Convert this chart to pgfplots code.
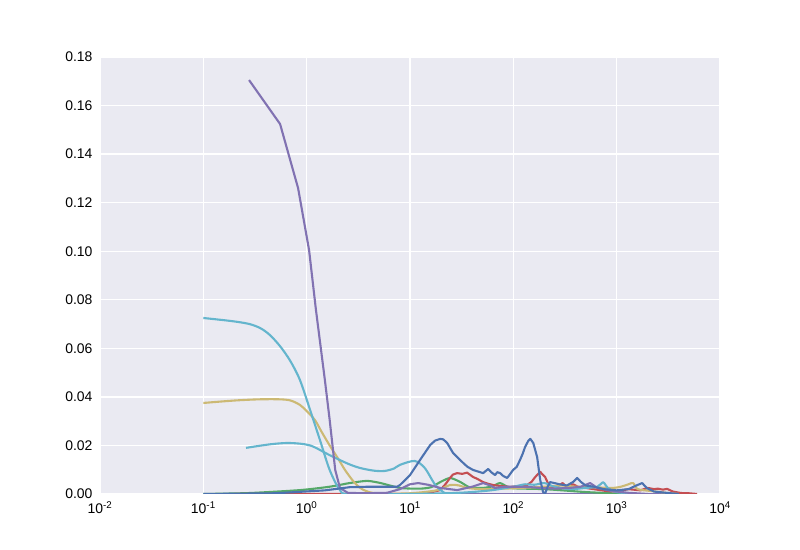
\documentclass[border=0pt]{standalone}
\usepackage{fontspec}
\setmainfont{Liberation Sans}
\usepackage{pgfplots}
\pgfplotsset{compat=1.18}
\definecolor{sbblue}{HTML}{4C72B0}
\definecolor{sbgreen}{HTML}{55A868}
\definecolor{sbred}{HTML}{C44E52}
\definecolor{sbpurple}{HTML}{8172B2}
\definecolor{sbyellow}{HTML}{CCB974}
\definecolor{sbcyan}{HTML}{64B5CD}
\definecolor{sbbg}{HTML}{EAEAF2}
\begin{document}
\begin{tikzpicture}[x=1bp,y=1bp]
\path[use as bounding box] (-100bp,-56bp) rectangle (700bp,494bp);
\begin{axis}[
  at={(0,0)}, anchor=south west,
  scale only axis, width=620bp, height=437bp,
  xmode=log, xmin=0.01, xmax=10000, ymin=0, ymax=0.18,
  axis background/.style={fill=sbbg},
  axis line style={draw=none},
  major tick length=0pt, minor tick length=0pt,
  grid=major, major grid style={white, line width=1.3bp},
  xtick={0.01,0.1,1,10,100,1000,10000},
  xticklabels={10\textsuperscript{-2},10\textsuperscript{-1},10\textsuperscript{0},10\textsuperscript{1},10\textsuperscript{2},10\textsuperscript{3},10\textsuperscript{4}},
  ytick={0,0.02,0.04,0.06,0.08,0.10,0.12,0.14,0.16,0.18},
  yticklabel style={/pgf/number format/fixed, /pgf/number format/fixed zerofill, /pgf/number format/precision=2, /pgf/number format/assume math mode=true, xshift=-4bp},
  tick label style={font=\fontsize{14}{16}\selectfont},
  xticklabel style={yshift=-4bp},
  every axis plot/.append style={line width=2.1bp, line join=round},
  clip=true,
]
% flat purple near zero
\addplot[sbpurple] coordinates {(0.22,0) (1,0) (10,0) (100,0) (1000,0) (3000,0)};
% green
\addplot[sbgreen, smooth, tension=0.4] coordinates {(0.1,0) (0.28,0.0004) (0.86,0.0016) (1.67,0.003) (2.6,0.0045) (3.84,0.0054) (5.2,0.0045) (8,0.0025) (12.5,0.0022) (16,0.0028) (19.6,0.0049) (24.4,0.0066) (30.5,0.0050) (38,0.0027) (51,0.0025) (63,0.0032) (74.5,0.0045) (93,0.0025) (130,0.0022) (200,0.0020) (300,0.0015) (500,0.0008) (1000,0.0002) (1500,0)};
% red
\addplot[sbred] coordinates {(0.2,0) (1,0) (10,0) (15,0.0004) (19.6,0.0016) (22,0.0040) (24.4,0.0066) (26,0.0080) (28.6,0.0086) (32,0.0083) (35.7,0.0088) (40.8,0.0070) (45,0.0062) (51,0.0049) (57,0.0042) (63.7,0.0037) (75,0.0033) (93,0.0029) (110,0.0032) (136,0.0037) (150,0.0050) (163,0.0070) (182,0.0091) (203,0.0070) (227,0.0025) (265,0.0030) (300,0.0045) (330,0.0028) (380,0.0040) (420,0.0030) (500,0.0025) (600,0.0020) (800,0.0012) (1000,0.0010) (1300,0.0020) (1700,0.0015) (2000,0.0025) (2300,0.0020) (2500,0.0022) (2800,0.0018) (3080,0.0021) (3500,0.0010) (4200,0.0004) (5000,0.0003) (6000,0)};
% yellow
\addplot[sbyellow, smooth, tension=0.5] coordinates {(0.1,0.0375) (0.2,0.0385) (0.35,0.0390) (0.55,0.0390) (0.7,0.0385) (0.86,0.0367) (1.0,0.0342) (1.2,0.0305) (1.4,0.0255) (1.67,0.0200) (2.0,0.0148) (2.35,0.0099) (2.8,0.0055) (3.3,0.0025) (4.0,0.0008) (5.2,0.0002) (10,0.0003) (18,0.0015) (24.4,0.0037) (30,0.0035) (35.7,0.0025) (50,0.0020) (80,0.0022) (120,0.0025) (200,0.0030) (300,0.0035) (400,0.0030) (600,0.0028) (900,0.0025) (1100,0.0030) (1300,0.0040) (1445,0.0045) (1600,0.0020) (2200,0.0012) (3000,0.0005) (4000,0)};
% cyan 1
\addplot[sbcyan, smooth, tension=0.5] coordinates {(0.1,0.0725) (0.19,0.0712) (0.28,0.0700) (0.36,0.0682) (0.44,0.0655) (0.55,0.0610) (0.69,0.0550) (0.86,0.0470) (1.08,0.0346) (1.35,0.0220) (1.67,0.0099) (2.1,0.0016) (2.6,0) (10,0) (30,0.0005) (60,0.0015) (100,0.0030) (130,0.0040) (160,0.0038) (200,0.0045) (250,0.0030) (350,0.0020) (500,0.0025) (650,0.0030) (740,0.0048) (820,0.0025) (1000,0.0008) (1500,0)};
% cyan 2
\addplot[sbcyan, smooth, tension=0.5] coordinates {(0.259,0.0190) (0.45,0.0205) (0.69,0.0210) (1.08,0.0200) (1.67,0.0160) (2.5,0.0125) (3.3,0.0107) (4.5,0.0096) (5.7,0.0095) (7.0,0.0105) (8.0,0.0120) (11.1,0.0136) (13.9,0.0107) (17.6,0.0037) (21.7,0.0004) (25,0)};
% purple main
\addplot[sbpurple] coordinates {(0.277,0.1705) (0.553,0.1524) (0.826,0.1260) (1.055,0.1005) (1.23,0.0758) (1.5,0.0470) (1.67,0.0305) (1.89,0.0099) (2.1,0.0025) (2.5,0.0005) (3.5,0.0003) (6,0.0005) (8,0.0020) (10,0.0040) (12,0.0045) (15,0.0038) (19.6,0.0025) (28.6,0.0016) (40,0.0030) (51,0.0045) (60,0.0035) (66,0.0025) (85,0.0030) (109,0.0030) (150,0.0028) (182,0.0025) (250,0.0022) (350,0.0025) (450,0.0030) (554,0.0045) (650,0.0025) (900,0.0012) (1300,0.0005) (2000,0)};
% blue
\addplot[sbblue] coordinates {(0.1,0) (0.5,0.0003) (1.5,0.0015) (2.6,0.0028) (4,0.0030) (6,0.0030) (7.5,0.0030) (8,0.0037) (10,0.0078) (12.5,0.0140) (15.7,0.0202) (17.5,0.0220) (19.6,0.0227) (21,0.0225) (22.9,0.0210) (26.1,0.0169) (29,0.0150) (32.7,0.0128) (36,0.0112) (40.8,0.0099) (46,0.0092) (51,0.0086) (57.1,0.0103) (61,0.0090) (66.6,0.0078) (70,0.0090) (74.5,0.0086) (80,0.0074) (87.1,0.0066) (93,0.0082) (99.5,0.0099) (108,0.0112) (116,0.0140) (123,0.0165) (130,0.0194) (140,0.0220) (146,0.0227) (156,0.0210) (170,0.0152) (182,0.0058) (194,0.0008) (203,0.0002) (215,0.0030) (227,0.0049) (250,0.0045) (280,0.0040) (330,0.0035) (380,0.0050) (415,0.0066) (450,0.0050) (500,0.0035) (600,0.0030) (750,0.0020) (1000,0.0015) (1300,0.0020) (1550,0.0035) (1766,0.0045) (1950,0.0025) (2300,0.0010) (3000,0.0005) (4000,0)};
\end{axis}
\end{tikzpicture}
\end{document}
